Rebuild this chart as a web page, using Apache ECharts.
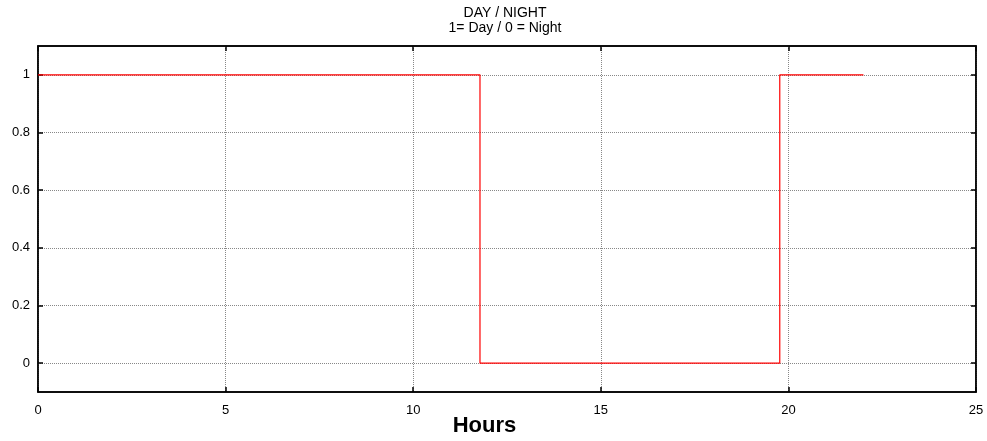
<!DOCTYPE html>
<html><head><meta charset="utf-8">
<script src="https://cdn.jsdelivr.net/npm/echarts@6/dist/echarts.min.js"></script>
<style>html,body{margin:0;padding:0;background:#fff}#c{width:987px;height:441px}</style>
</head><body><div id="c"></div>
<script>
const titleLines = ['DAY / NIGHT', '1= Day / 0 = Night'];
const xName = 'Hours';
const changeHours = [0, 11.78, 19.77, 22];
const dayState = [1, 0, 1, 1];
const yTicks = [0, 0.2, 0.4, 0.6, 0.8, 1];
const yLabels = ['0', '0.2', '0.4', '0.6', '0.8', '1'];

const chart = echarts.init(document.getElementById('c'));
const font = 'Liberation Sans, Arial, sans-serif';
const gridLine = {show: true, lineStyle: {color: '#888', type: 'dotted', width: 1}};
chart.setOption({
  animation: false,
  title: {
    text: titleLines.join('\n'), left: 505, textAlign: 'center', top: 6, padding: 0,
    textStyle: {fontFamily: font, fontSize: 14, fontWeight: 'normal', color: '#000', lineHeight: 15}
  },
  grid: {left: 38, right: 11, top: 46, bottom: 49, outerBoundsMode: 'none', containLabel: false,
    show: true, borderColor: '#000', borderWidth: 1.5},
  xAxis: [{
    type: 'value', min: 0, max: 25, interval: 5,
    name: xName, nameLocation: 'middle', nameGap: 23, nameMoveOverlap: false,
    nameTextStyle: {fontFamily: font, fontSize: 22, fontWeight: 'bold', color: '#000', padding: [0, 45, 0, 0]},
    axisLine: {show: true, onZero: false, lineStyle: {color: '#000', width: 1.5}},
    axisTick: {inside: true, length: 5, lineStyle: {color: '#000', width: 1.5}},
    axisLabel: {fontFamily: font, fontSize: 13, color: '#000', margin: 12},
    splitLine: gridLine
  }, {
    type: 'value', position: 'top', min: 0, max: 25, interval: 5,
    axisLine: {show: true, onZero: false, lineStyle: {color: '#000', width: 1.5}},
    axisTick: {inside: true, length: 5, lineStyle: {color: '#000', width: 1.5}},
    axisLabel: {show: false}, splitLine: {show: false}
  }],
  yAxis: [{
    type: 'value', min: -0.1, max: 1.1,
    axisLine: {show: true, onZero: false, lineStyle: {color: '#000', width: 1.5}},
    axisTick: {inside: true, length: 5, customValues: yTicks, lineStyle: {color: '#000', width: 1.5}},
    axisLabel: {fontFamily: font, fontSize: 13, color: '#000', margin: 8, customValues: yTicks,
      formatter: v => yLabels[yTicks.findIndex(t => Math.abs(t - v) < 1e-9)]},
    splitLine: gridLine
  }, {
    type: 'value', position: 'right', min: -0.1, max: 1.1,
    axisLine: {show: true, onZero: false, lineStyle: {color: '#000', width: 1.5}},
    axisTick: {inside: true, length: 5, customValues: yTicks, lineStyle: {color: '#000', width: 1.5}},
    axisLabel: {show: false}, splitLine: {show: false}
  }],
  series: [{
    type: 'line', step: 'end', showSymbol: false, xAxisIndex: 0, yAxisIndex: 0,
    data: changeHours.map((h, i) => [h, dayState[i]]),
    lineStyle: {color: '#ff0000', width: 1.2}
  }]
});
</script></body></html>
